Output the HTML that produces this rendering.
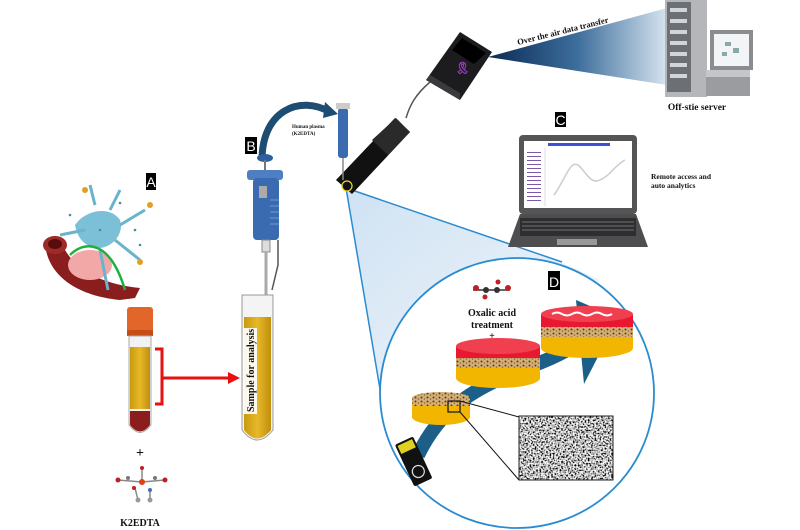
<!DOCTYPE html>
<html><head><meta charset="utf-8"><style>
html,body{margin:0;padding:0;background:#fff;}
svg{display:block;}
text{font-family:"Liberation Serif",serif;font-weight:bold;fill:#111;}
.lab{font-family:"Liberation Sans",sans-serif;font-weight:normal;fill:#fff;font-size:14px;}
</style></head><body>
<svg width="800" height="530" viewBox="0 0 800 530" xmlns="http://www.w3.org/2000/svg">
<defs>
<linearGradient id="cone" x1="0" y1="0" x2="1" y2="1">
<stop offset="0" stop-color="#cfe2f3"/><stop offset="1" stop-color="#f4f8fc"/></linearGradient>
<linearGradient id="beam" x1="0" y1="0" x2="1" y2="0">
<stop offset="0" stop-color="#0b2a55"/><stop offset="0.5" stop-color="#3d6e9c"/><stop offset="1" stop-color="#d6e4ef"/></linearGradient>
<linearGradient id="yel" x1="0" y1="0" x2="1" y2="0">
<stop offset="0" stop-color="#c99a10"/><stop offset="0.5" stop-color="#e7b828"/><stop offset="1" stop-color="#c08e0c"/></linearGradient>
<filter id="noise" x="0" y="0" width="100%" height="100%">
<feTurbulence type="fractalNoise" baseFrequency="0.6" numOctaves="1" seed="3"/>
<feColorMatrix type="matrix" values="0 0 0 3.2 -1.1  0 0 0 3.2 -1.1  0 0 0 3.2 -1.1  0 0 0 0 1"/>
</filter>
<pattern id="speck" width="6" height="4" patternUnits="userSpaceOnUse">
<rect width="6" height="4" fill="#d4b078"/><circle cx="1.5" cy="1.5" r="1" fill="#5a3a18"/><circle cx="4.5" cy="3" r="0.8" fill="#8a6030"/></pattern>
</defs>

<!-- cone to circle -->
<polygon points="346,188 560,262 600,280 380,400 381,390" fill="url(#cone)"/>
<line x1="346" y1="188" x2="562" y2="262" stroke="#2a8bd0" stroke-width="1.5"/>
<line x1="346" y1="188" x2="381" y2="395" stroke="#2a8bd0" stroke-width="1.5"/>
<ellipse cx="517" cy="393" rx="137" ry="135" fill="#fff" stroke="#2a8bd0" stroke-width="1.8"/>

<!-- beam -->
<polygon points="488,57 667,8 667,85" fill="url(#beam)"/>
<text x="518" y="45" font-size="8.5" transform="rotate(-14 518 45)">Over the air data transfer</text>

<!-- server -->
<rect x="665" y="0" width="42" height="97" fill="#b4b6b9"/>
<rect x="667" y="2" width="24" height="90" fill="#6c6f74"/>
<g fill="#d2d4d7"><rect x="670" y="8" width="17" height="4"/><rect x="670" y="19" width="17" height="4"/><rect x="670" y="30" width="17" height="4"/><rect x="670" y="41" width="17" height="4"/><rect x="670" y="52" width="17" height="4"/><rect x="670" y="63" width="17" height="4"/><rect x="670" y="74" width="17" height="4"/></g>
<rect x="710" y="30" width="43" height="40" fill="#8a8c90" /><rect x="714" y="34" width="35" height="32" fill="#f2f4f6"/>
<g fill="#8aa"><rect x="725" y="42" width="6" height="4"/><rect x="733" y="48" width="6" height="5"/><rect x="722" y="52" width="5" height="4"/></g>
<rect x="706" y="70" width="44" height="26" fill="#9a9c9f"/><rect x="706" y="70" width="44" height="7" fill="#c4c6c9"/>
<text x="697" y="110" font-size="9.5" text-anchor="middle">Off-stie server</text>

<!-- box device -->
<polygon points="460,32 492,52 460,100 426,80" fill="#1c1c1e"/>
<polygon points="426,80 460,100 460,93 430,75" fill="#3a3a3c"/>
<polygon points="462,38 486,53 474,64 452,50" fill="#000"/>
<text x="455" y="72" font-size="12" style="fill:#a43ad0">&#x1F397;</text>
<path d="M430,82 C415,95 410,105 406,118" fill="none" stroke="#555" stroke-width="1.5"/>

<!-- long black device -->
<polygon points="395,118 410,132 352,194 336,180" fill="#111"/>
<polygon points="372,140 396,118 410,132 388,155" fill="#2a2a2a"/>
<circle cx="347" cy="186" r="5" fill="#111" stroke="#e6d22a" stroke-width="1.3"/>

<!-- small pipette -->
<rect x="338" y="108" width="10" height="50" rx="3" fill="#3a6ab0"/>
<rect x="336" y="103" width="14" height="6" fill="#ccc"/>
<line x1="343" y1="158" x2="343" y2="180" stroke="#888" stroke-width="1.5"/>
<text x="292" y="128" font-size="5">Human plasma</text>
<text x="292" y="135" font-size="5">(K2EDTA)</text>

<!-- curved arrow -->
<path d="M262,160 C262,110 300,95 330,112" fill="none" stroke="#1d4d72" stroke-width="7"/>
<polygon points="325,102 338,114 323,118" fill="#1d4d72"/>

<!-- B pipette -->
<ellipse cx="265" cy="158" rx="8" ry="4" fill="#2f5f9f"/>
<line x1="265" y1="160" x2="265" y2="170" stroke="#777" stroke-width="2"/>
<rect x="247" y="170" width="36" height="10" rx="3" fill="#4d7fc2"/>
<rect x="253" y="178" width="26" height="62" rx="4" fill="#3a6ab0"/>
<rect x="259" y="186" width="8" height="12" fill="#aaa"/>
<g stroke="#6e9ad6" stroke-width="1"><line x1="270" y1="200" x2="279" y2="200"/><line x1="270" y1="206" x2="279" y2="206"/><line x1="270" y1="212" x2="279" y2="212"/><line x1="270" y1="218" x2="279" y2="218"/><line x1="270" y1="224" x2="279" y2="224"/></g>
<rect x="262" y="240" width="8" height="12" fill="#ddd" stroke="#888"/>
<line x1="266" y1="252" x2="266" y2="300" stroke="#aaa" stroke-width="3"/>
<path d="M278,240 L278,265 L272,290" fill="none" stroke="#555" stroke-width="1.5"/>
<rect x="245" y="137" width="12" height="17" fill="#000"/><text class="lab" x="251" y="151" text-anchor="middle">B</text>

<!-- B tube -->
<path d="M242,295 L273,295 L273,430 Q257,450 242,430 Z" fill="#f4f4f4" stroke="#999"/>
<path d="M244,317 L271,317 L271,430 Q257,447 244,430 Z" fill="url(#yel)"/>
<rect x="243" y="328" width="14" height="86" fill="#fff" opacity="0.92"/>
<text x="254" y="412" font-size="10" transform="rotate(-90 254 412)">Sample for analysis</text>

<!-- A neuron art -->
<g>
<path d="M45,240 C45,270 70,295 120,300 L135,298 L140,288 C110,285 80,275 65,250 Z" fill="#8a1e1e"/>
<ellipse cx="55" cy="245" rx="12" ry="9" fill="#9e2a2a"/><ellipse cx="55" cy="244" rx="7" ry="5" fill="#5a0c0c"/>
<ellipse cx="90" cy="265" rx="22" ry="15" fill="#f3a8a8"/>
<path d="M75,225 C85,210 110,205 120,220 C125,235 110,250 95,248 C85,245 78,240 75,225 Z" fill="#7cc0d8"/>
<path d="M95,205 L90,185 M110,210 L120,190 M120,225 L145,210 M60,235 L85,230 M115,240 L140,260 M100,250 L108,290" stroke="#6ab3cc" stroke-width="3" fill="none"/>
<path d="M70,255 C85,240 110,240 125,290" stroke="#20b040" stroke-width="2.5" fill="none"/>
<circle cx="85" cy="190" r="3" fill="#e2a020"/><circle cx="150" cy="205" r="3" fill="#e2a020"/><circle cx="140" cy="262" r="3" fill="#e2a020"/>
<g fill="#4a8aa0"><circle cx="70" cy="215" r="1.3"/><circle cx="120" cy="203" r="1.3"/><circle cx="135" cy="230" r="1.3"/><circle cx="140" cy="245" r="1.3"/><circle cx="100" cy="230" r="1.3"/></g>
</g>
<rect x="146" y="173" width="10" height="17" fill="#000"/><text class="lab" x="151" y="187" text-anchor="middle">A</text>

<!-- blood tube -->
<rect x="127" y="307" width="26" height="28" rx="3" fill="#e2662a"/>
<rect x="127" y="330" width="26" height="6" fill="#c54e18"/>
<path d="M129,336 L151,336 L151,425 Q140,440 129,425 Z" fill="#f2f2f2" stroke="#aaa"/>
<rect x="130" y="347" width="20" height="62" fill="url(#yel)"/>
<path d="M130,411 L150,411 L150,425 Q140,438 130,425 Z" fill="#8c1d1d"/>
<path d="M155,349 L162,349 L162,404 L155,404" fill="none" stroke="#e81010" stroke-width="3"/>
<line x1="162" y1="378" x2="230" y2="378" stroke="#e81010" stroke-width="3"/>
<polygon points="228,372 240,378 228,384" fill="#e81010"/>
<text x="140" y="457" font-size="14" text-anchor="middle">+</text>
<g stroke="#888" stroke-width="1.5"><line x1="118" y1="480" x2="142" y2="482"/><line x1="142" y1="482" x2="165" y2="480"/><line x1="142" y1="482" x2="142" y2="468"/><line x1="135" y1="488" x2="138" y2="500"/><line x1="150" y1="490" x2="150" y2="500"/></g>
<g><circle cx="118" cy="480" r="2.5" fill="#c02020"/><circle cx="165" cy="480" r="2.5" fill="#c02020"/><circle cx="142" cy="482" r="3" fill="#e04010"/><circle cx="142" cy="468" r="2" fill="#c02020"/><circle cx="128" cy="478" r="2" fill="#777"/><circle cx="155" cy="478" r="2" fill="#777"/><circle cx="138" cy="500" r="2.5" fill="#999"/><circle cx="150" cy="500" r="2.5" fill="#999"/><circle cx="134" cy="488" r="2" fill="#c02020"/><circle cx="150" cy="490" r="2" fill="#4070c0"/></g>
<text x="140" y="526" font-size="10" text-anchor="middle">K2EDTA</text>

<!-- laptop -->
<rect x="519" y="135" width="118" height="79" rx="4" fill="#555"/>
<rect x="524" y="141" width="108" height="67" fill="#fff"/>
<rect x="548" y="143" width="62" height="3" fill="#3c4fd8"/>
<g fill="#7a5aa8"><rect x="527" y="152" width="14" height="1"/><rect x="527" y="156" width="14" height="1"/><rect x="527" y="160" width="14" height="1"/><rect x="527" y="164" width="14" height="1"/><rect x="527" y="168" width="14" height="1"/><rect x="527" y="172" width="14" height="1"/><rect x="527" y="176" width="14" height="1"/><rect x="527" y="180" width="14" height="1"/><rect x="527" y="184" width="14" height="1"/><rect x="527" y="188" width="14" height="1"/><rect x="527" y="192" width="14" height="1"/><rect x="527" y="196" width="14" height="1"/><rect x="527" y="200" width="14" height="1"/></g>
<line x1="545" y1="148" x2="545" y2="206" stroke="#ddd"/>
<path d="M554,195 C565,180 570,160 578,165 C585,170 590,185 600,180 C610,176 615,165 625,160" fill="none" stroke="#ccc" stroke-width="1.5"/>
<polygon points="520,214 636,214 648,247 508,247" fill="#4e4e50"/>
<rect x="520" y="218" width="116" height="18" fill="#2e2e30"/>
<g stroke="#888" stroke-width="0.8"><line x1="522" y1="222" x2="634" y2="222"/><line x1="522" y1="226" x2="634" y2="226"/><line x1="522" y1="230" x2="634" y2="230"/></g>
<rect x="557" y="239" width="40" height="6" fill="#999"/>
<rect x="555" y="112" width="11" height="15" fill="#000"/><text class="lab" x="560.5" y="125" text-anchor="middle" font-size="13">C</text>
<text x="651" y="179" font-size="7.5">Remote access and</text>
<text x="651" y="188" font-size="7.5">auto analytics</text>

<!-- D contents -->
<rect x="548" y="271" width="12" height="19" fill="#000"/><text class="lab" x="554" y="287" text-anchor="middle" font-size="13">D</text>
<path d="M418,455 C440,410 470,390 520,370 C550,360 570,350 590,335" fill="none" stroke="#1b5f88" stroke-width="14"/>
<polygon points="576,300 618,318 584,384" fill="#1b5f88"/>
<g stroke="#333" stroke-width="1.5"><line x1="473" y1="290" x2="510" y2="290"/></g>
<circle cx="476" cy="288" r="3" fill="#c02020"/><circle cx="486" cy="290" r="3" fill="#333"/><circle cx="497" cy="290" r="3" fill="#333"/><circle cx="508" cy="288" r="3" fill="#c02020"/><circle cx="485" cy="297" r="2.5" fill="#c02020"/><circle cx="498" cy="282" r="2.5" fill="#c02020"/>
<text x="492" y="316" font-size="10" text-anchor="middle">Oxalic acid</text>
<text x="492" y="328" font-size="10" text-anchor="middle">treatment</text>
<text x="492" y="339" font-size="10" text-anchor="middle">+</text>
<!-- mid disc -->
<ellipse cx="498" cy="378" rx="42" ry="10" fill="#f2b600"/>
<rect x="456" y="346" width="84" height="32" fill="#f2b600"/>
<rect x="456" y="358" width="84" height="10" fill="url(#speck)"/>
<rect x="456" y="347" width="84" height="11" fill="#e81830"/>
<ellipse cx="498" cy="346" rx="42" ry="8" fill="#f04050"/>
<!-- big disc -->
<ellipse cx="587" cy="348" rx="46" ry="10" fill="#f2b600"/>
<rect x="541" y="314" width="92" height="34" fill="#f2b600"/>
<rect x="541" y="327" width="92" height="10" fill="url(#speck)"/>
<rect x="541" y="315" width="92" height="12" fill="#e81830"/>
<ellipse cx="587" cy="314" rx="46" ry="8" fill="#f04050"/>
<path d="M552,314 q5,-3 10,0 t10,0 t10,0 t10,0 t10,0 t10,0" fill="none" stroke="#fff" stroke-width="2"/>
<!-- small disc -->
<ellipse cx="441" cy="417" rx="29" ry="8" fill="#f2b600"/>
<rect x="412" y="402" width="58" height="15" fill="#f2b600"/>
<rect x="412" y="398" width="58" height="8" fill="url(#speck)"/>
<ellipse cx="441" cy="398" rx="29" ry="6" fill="url(#speck)"/>
<rect x="448" y="401" width="12" height="11" fill="none" stroke="#111" stroke-width="1.2"/>
<line x1="460" y1="401" x2="519" y2="417" stroke="#111" stroke-width="1"/>
<line x1="460" y1="412" x2="519" y2="480" stroke="#111" stroke-width="1"/>
<rect x="519" y="416" width="94" height="64" fill="#555" filter="url(#noise)"/>
<rect x="519" y="416" width="94" height="64" fill="none" stroke="#222"/>
<!-- usb -->
<g transform="rotate(-25 415 462)">
<rect x="404" y="438" width="20" height="46" rx="2" fill="#111"/>
<rect x="406" y="440" width="16" height="9" fill="#e0d020"/>
<circle cx="414" cy="472" r="6" fill="#111" stroke="#ddd" stroke-width="1.2"/>
</g>
</svg>
</body></html>
